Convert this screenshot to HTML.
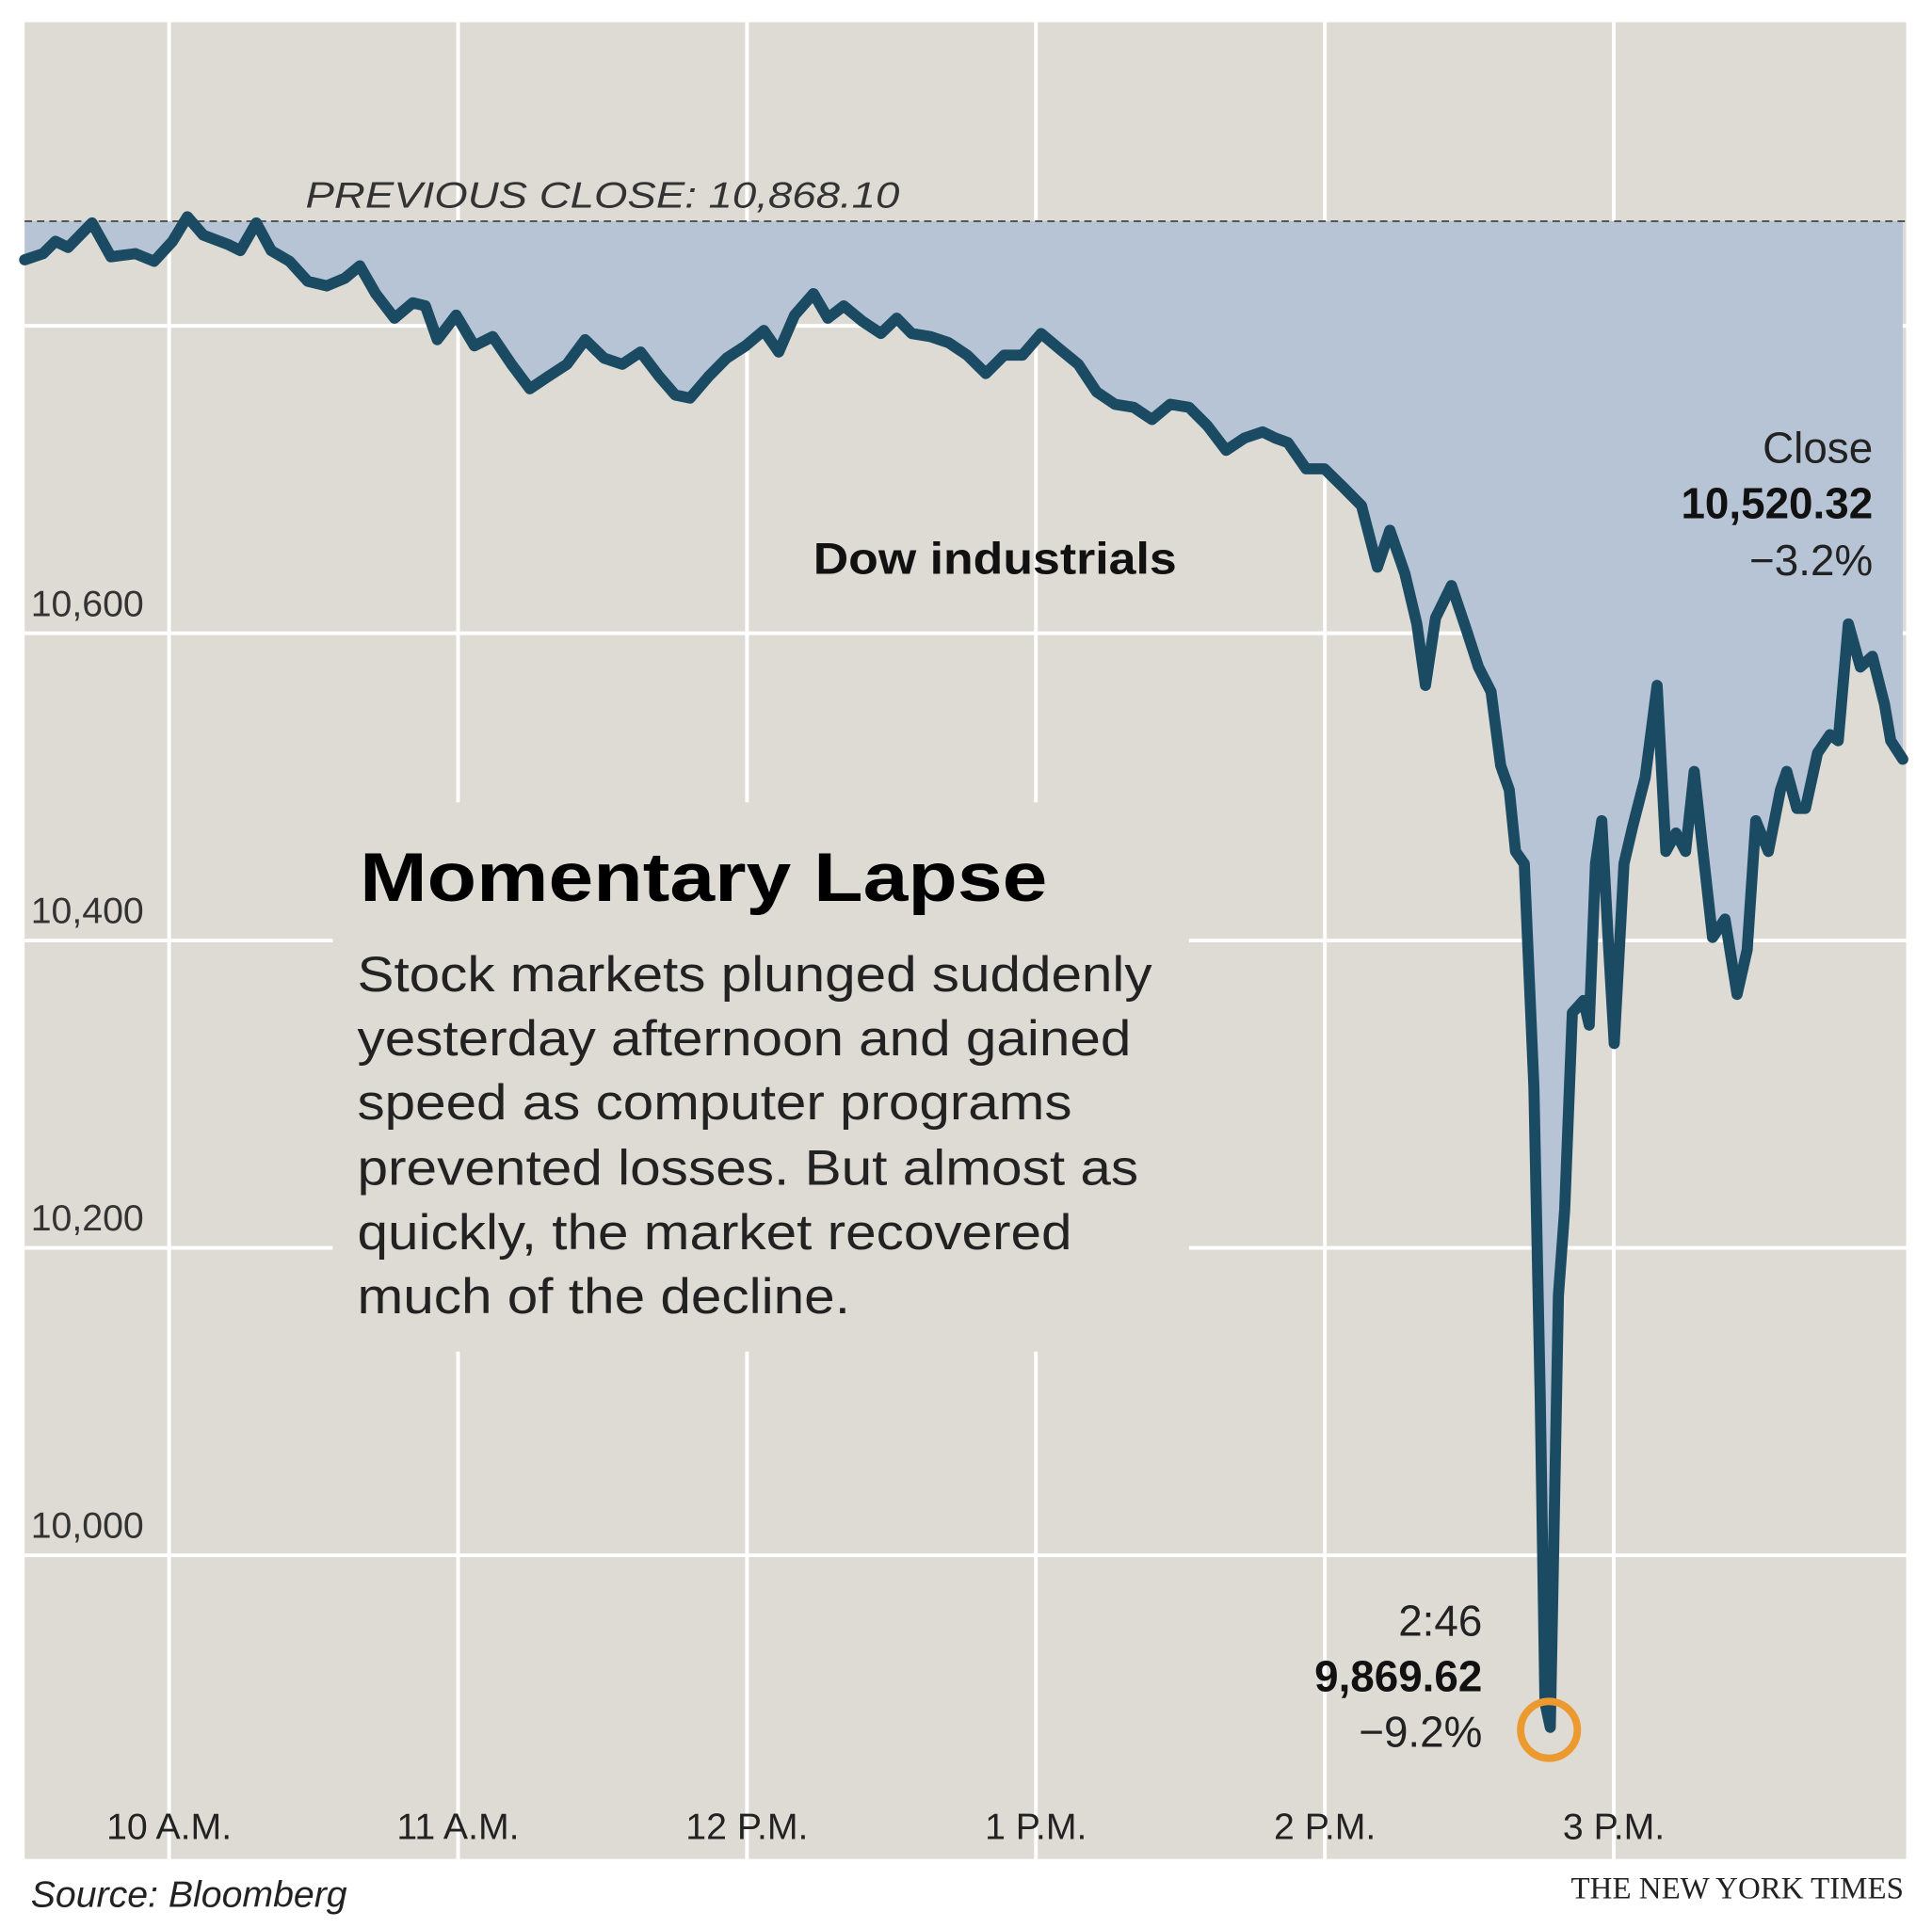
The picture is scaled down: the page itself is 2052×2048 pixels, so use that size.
<!DOCTYPE html>
<html><head><meta charset="utf-8"><style>
html,body{margin:0;padding:0;background:#fff;}
svg{display:block;}
text{font-family:"Liberation Sans",sans-serif;}
</style></head><body>
<svg id="chart" width="2052" height="2048" viewBox="0 0 1568 1562" preserveAspectRatio="none" xmlns="http://www.w3.org/2000/svg">
<rect x="0" y="0" width="1568" height="1562" fill="#ffffff"/>
<rect x="20" y="18" width="1527" height="1488" fill="#dedbd5"/>
<g id="grid"></g>
<rect x="270" y="650" width="695" height="445" fill="#dedbd5"/>
<g id="series"></g>
<g id="labels"></g>
<text x="248" y="168" font-size="30" font-style="italic" fill="#333" textLength="482" lengthAdjust="spacingAndGlyphs">PREVIOUS CLOSE: 10,868.10</text>
<text x="660" y="465" font-size="36" font-weight="bold" fill="#111" textLength="295" lengthAdjust="spacingAndGlyphs">Dow industrials</text>
<text x="1520" y="375" font-size="35" text-anchor="end" fill="#222">Close</text>
<text x="1520" y="420" font-size="35" font-weight="bold" text-anchor="end" fill="#111">10,520.32</text>
<text x="1520" y="466" font-size="35" text-anchor="end" fill="#222">−3.2%</text>
<text x="292" y="730" font-size="56" font-weight="bold" fill="#000" textLength="558" lengthAdjust="spacingAndGlyphs">Momentary Lapse</text>
<g font-size="40" fill="#222">
<text x="290" y="803" textLength="645" lengthAdjust="spacingAndGlyphs">Stock markets plunged suddenly</text>
<text x="290" y="855" textLength="628" lengthAdjust="spacingAndGlyphs">yesterday afternoon and gained</text>
<text x="290" y="907" textLength="580" lengthAdjust="spacingAndGlyphs">speed as computer programs</text>
<text x="290" y="960" textLength="634" lengthAdjust="spacingAndGlyphs">prevented losses. But almost as</text>
<text x="290" y="1012" textLength="580" lengthAdjust="spacingAndGlyphs">quickly, the market recovered</text>
<text x="290" y="1064" textLength="400" lengthAdjust="spacingAndGlyphs">much of the decline.</text>
</g>
<text x="1203" y="1325" font-size="35" text-anchor="end" fill="#222">2:46</text>
<text x="1203" y="1370" font-size="35" font-weight="bold" text-anchor="end" fill="#111">9,869.62</text>
<text x="1203" y="1415" font-size="35" text-anchor="end" fill="#222">−9.2%</text>
<text x="25" y="1545" font-size="30" font-style="italic" fill="#222">Source: Bloomberg</text>
<text x="1545" y="1538" font-size="25" text-anchor="end" fill="#222" textLength="270" lengthAdjust="spacingAndGlyphs" style="font-family:'Liberation Serif',serif">THE NEW YORK TIMES</text>
</svg>
<script>
const times = [0,3.8,6.4,9,14,17.9,23,26.9,30.7,33.8,37.1,42.2,44.8,48.1,51.2,55,58.8,62.7,66.5,69.6,72.9,76.8,80.6,83.2,85.7,89.6,93.4,97.2,101.1,104.9,108.7,112.6,116.4,120.3,124.1,127.9,131.8,135.1,138.2,142,145.8,149.7,153.5,156.6,159.9,163.8,166.8,170.1,174,177.8,181.1,184.2,188.1,191.9,195.7,199.6,203.4,207.2,211.1,214.9,218.8,222.6,226.4,230.3,234.1,237.9,241.8,245.6,249.5,253.3,257.1,259.7,262.3,266.1,269.9,273.8,277.6,280.9,283.5,286.6,289.1,290.9,293,296.3,299.4,301.9,304.5,306.5,308.3,309.6,311.4,313.4,314.7,315.7,316.8,317.3,318.5,319.8,321.4,323.7,324.9,326.2,327.5,328.8,330.1,332.1,333.9,336.5,339,340.8,342.9,344.9,346.7,348.5,350.5,353.1,355.6,357.7,359.5,362.1,364.6,365.9,368,369.8,372.3,374.9,376.6,378.7,381.2,383.7,386.2,387.5,390];
const values = [10843,10847,10855,10851,10867,10845,10847,10842,10855,10871,10859,10853,10849,10867,10849,10842,10829,10826,10831,10839,10821,10805,10815,10813,10791,10807,10787,10793,10775,10759,10767,10775,10791,10779,10775,10783,10767,10755,10753,10767,10779,10787,10797,10783,10807,10821,10805,10813,10803,10795,10805,10795,10793,10789,10781,10769,10781,10781,10795,10785,10775,10757,10749,10747,10739,10749,10747,10735,10719,10727,10731,10727,10724,10707,10707,10695,10683,10643,10667,10639,10606,10566,10610,10631,10602,10578,10562,10514,10498,10458,10450,10305,10104,9904,9888,9968,10169,10225,10353,10361,10345,10450,10478,10402,10333,10450,10474,10506,10566,10458,10470,10458,10510,10458,10402,10414,10365,10394,10478,10458,10498,10510,10486,10486,10522,10534,10530,10606,10578,10585,10554,10530,10518];
const prevClose = 10868.10;
const yTicks = [10000,10200,10400,10600,10800];
const yTickLabels = ["10,000","10,200","10,400","10,600",""];
const xTicks = [30,90,150,210,270,330];
const xTickLabels = ["10 A.M.","11 A.M.","12 P.M.","1 P.M.","2 P.M.","3 P.M."];
const lowTime = 316.8, lowValue = 9888;

const NS="http://www.w3.org/2000/svg";
function xs(t){return 20 + t*(234.5/60);}
function ys(v){return 513 + (10600 - v)*1.245;}
function mk(tag, attrs, parent){const e=document.createElementNS(NS,tag);for(const k in attrs)e.setAttribute(k,attrs[k]);parent.appendChild(e);return e;}
const grid=document.getElementById('grid'), series=document.getElementById('series'), labels=document.getElementById('labels');
yTicks.forEach((v,i)=>{
  const l=mk('line',{x1:20,x2:1547,y1:ys(v),y2:ys(v),stroke:'#ffffff','stroke-width':3},grid);
  
  
  if(yTickLabels[i]){
    const t=mk('text',{x:25,y:ys(v)-14,'font-size':30,fill:'#333'},labels);
    t.textContent=yTickLabels[i];
    
    
  }
});
xTicks.forEach((m,i)=>{
  const l=mk('line',{x1:xs(m),x2:xs(m),y1:18,y2:1506,stroke:'#ffffff','stroke-width':3},grid);
  
  
  const t=mk('text',{x:xs(m),y:1490,'font-size':30,fill:'#222','text-anchor':'middle'},labels);
  t.textContent=xTickLabels[i];
  
  
});
let pts=times.map((t,i)=>xs(t).toFixed(1)+','+ys(values[i]).toFixed(1));
let area='M'+xs(times[0])+','+ys(prevClose)+' L'+pts.join(' L')+' L'+xs(times[times.length-1])+','+ys(prevClose)+' Z';
const a=mk('path',{d:area,fill:'#b7c4d5'},series);


const pc=mk('line',{x1:20,x2:1547,y1:ys(prevClose),y2:ys(prevClose),stroke:'#555','stroke-width':1.5,'stroke-dasharray':'6,4'},series);


const ln=mk('polyline',{points:pts.join(' '),fill:'none',stroke:'#1b4a63','stroke-width':9,'stroke-linejoin':'round','stroke-linecap':'round'},series);


const c=mk('circle',{cx:xs(lowTime)-1,cy:ys(lowValue)+2,r:23,fill:'none',stroke:'#ec9a2f','stroke-width':6},series);


</script>
</body></html>
